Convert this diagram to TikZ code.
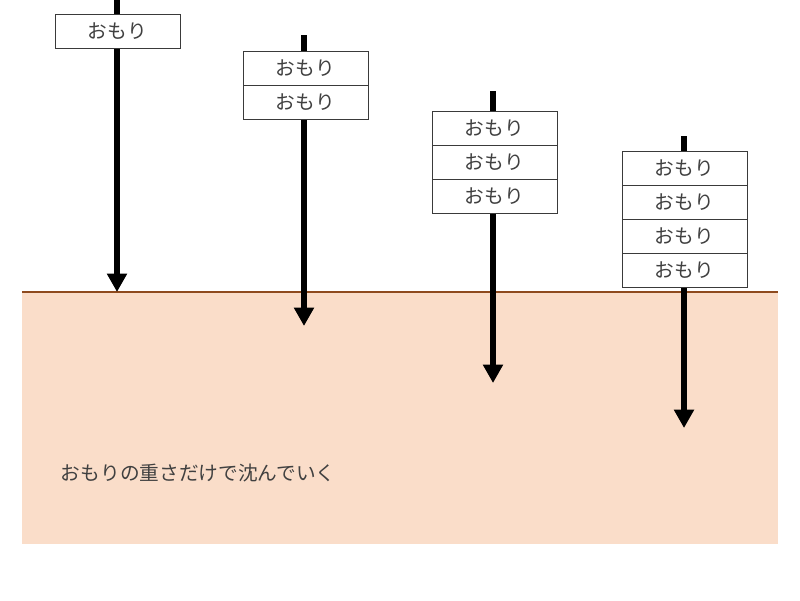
\documentclass[tikz,border=0pt]{standalone}
\usepackage{fontspec}
\setmainfont{Noto Sans CJK JP}
\usetikzlibrary{positioning, arrows.meta}
\definecolor{soil}{HTML}{FADDC9}
\definecolor{soilline}{HTML}{8E4A1E}
\definecolor{ink}{HTML}{404040}

\tikzset{
  weight/.style={draw=ink!90!black, line width=0.6pt, fill=white, text=ink,
    minimum width=3.125cm, minimum height=0.85cm, inner sep=0pt, outer sep=0pt,
    font=\fontsize{14}{16}\selectfont},
  pole/.style={line width=4.3pt, -{Triangle[length=0.46cm, width=0.48cm]}}
}

\begin{document}
\begin{tikzpicture}[x=0.025cm, y=-0.025cm]
      \useasboundingbox (0,0) rectangle (800,600);

      % ground
      \fill[soil] (22,292) rectangle (778,544);
      \draw[soilline, line width=2pt] (22,292) -- (778,292);
      \node[anchor=west, text=ink, font=\fontsize{14}{16}\selectfont] (caption) at (56,473) {おもりの重さだけで沈んでいく};

      % pole tops and tips
      \coordinate (t1) at (117,0);   \coordinate (e1) at (117,292);
      \coordinate (t2) at (304,35);  \coordinate (e2) at (304,326);
      \coordinate (t3) at (493,91);  \coordinate (e3) at (493,383);
      \coordinate (t4) at (684,136); \coordinate (e4) at (684,428);
      \foreach \i in {1,...,4} {
        \draw[pole] (t\i) -- (e\i);
      }

      % one weight
      \node[weight] (w1a) at (117.5,31) {おもり};

      % two weights
      \node[weight] (w2a) at (305.5,68.5) {おもり};
      \node[weight, below=0pt of w2a] (w2b) {おもり};

      % three weights
      \node[weight] (w3a) at (494.5,128.5) {おもり};
      \node[weight, below=0pt of w3a] (w3b) {おもり};
      \node[weight, below=0pt of w3b] (w3c) {おもり};

      % four weights
      \node[weight] (w4a) at (684.5,168.5) {おもり};
      \node[weight, below=0pt of w4a] (w4b) {おもり};
      \node[weight, below=0pt of w4b] (w4c) {おもり};
      \node[weight, below=0pt of w4c] (w4d) {おもり};
\end{tikzpicture}
\end{document}
